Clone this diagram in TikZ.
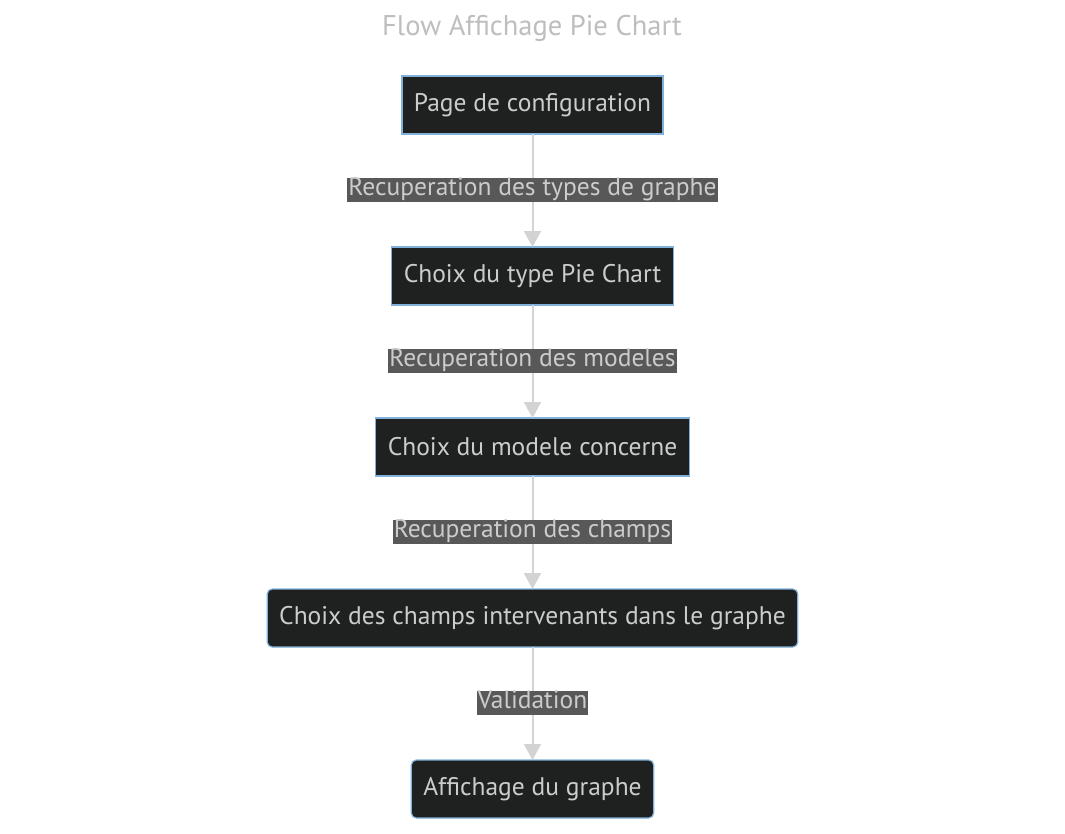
\documentclass[tikz,border=0pt]{standalone}
\usepackage{fontspec}
\setmainfont{PT Sans}
\usetikzlibrary{positioning,arrows.meta}
\definecolor{boxfill}{HTML}{1F2020}
\definecolor{boxline}{HTML}{81B1DB}
\definecolor{txtgray}{HTML}{CCCCCC}
\definecolor{lblfill}{HTML}{585858}
\definecolor{arrowgray}{HTML}{D3D3D3}

\begin{document}
\begin{tikzpicture}[x=1pt,y=-1pt,
    every node/.style={font=\fontsize{25.5}{30}\selectfont, text=txtgray},
    etape/.style={draw=boxline, fill=boxfill, line width=1.2pt, minimum height=58pt, inner xsep=12pt, outer sep=0pt},
    etaperond/.style={etape, rounded corners=5pt},
    lien/.style={draw=arrowgray, line width=2pt, -{Triangle[width=17pt,length=16pt]}},
    lbl/.style={fill=lblfill, inner xsep=1pt, inner ysep=0pt, text height=18pt, text depth=6pt, midway, yshift=1pt},
    node distance=113pt]
    \useasboundingbox[fill=white] (0,0) rectangle (1065,833);
    \node[text=arrowgray!90!black, font=\fontsize{28.5}{32}\selectfont] (titre) at (532,28) {Flow Affichage Pie Chart};
    % les etapes
    \node[etape] (config) at (532.5,105) {Page de configuration};
    \node[etape, below=of config] (type) {Choix du type Pie Chart};
    \node[etape, below=of type] (modele) {Choix du modele concerne};
    \node[etaperond, below=of modele] (champs) {Choix des champs intervenants dans le graphe};
    \node[etaperond, below=of champs] (affich) {Affichage du graphe};
    % les liens
    \draw[lien] (config) -- node[lbl] {Recuperation des types de graphe} (type);
    \draw[lien] (type) -- node[lbl] {Recuperation des modeles} (modele);
    \draw[lien] (modele) -- node[lbl] {Recuperation des champs} (champs);
    \draw[lien] (champs) -- node[lbl] {Validation} (affich);
\end{tikzpicture}
\end{document}
